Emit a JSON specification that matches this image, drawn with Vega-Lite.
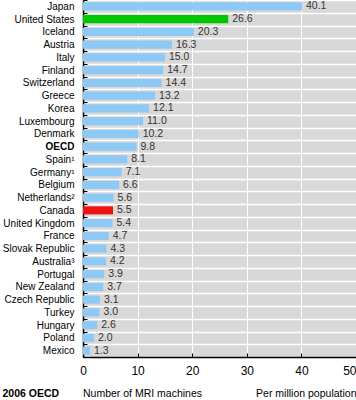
{
  "$schema": "https://vega.github.io/schema/vega-lite/v6.json",
  "width": 273,
  "height": 357,
  "autosize": {"type": "none"},
  "padding": {"left": 83, "top": 0, "right": 0, "bottom": 43},
  "background": "white",
  "config": {
    "view": {"fill": "#d8d8d8", "stroke": null},
    "font": "Liberation Sans",
    "title": {"font": "Liberation Sans", "fontWeight": "normal", "fontSize": 10.5, "color": "#000"}
  },
  "title": {"text": "Number of MRI machines", "orient": "bottom", "anchor": "start", "frame": "group", "offset": 0, "dy": -10},
  "data": {"values": [
    {"country": "Japan", "value": 40.1, "group": "other"},
    {"country": "United States", "value": 26.6, "group": "us"},
    {"country": "Iceland", "value": 20.3, "group": "other"},
    {"country": "Austria", "value": 16.3, "group": "other"},
    {"country": "Italy", "value": 15.0, "group": "other"},
    {"country": "Finland", "value": 14.7, "group": "other"},
    {"country": "Switzerland", "value": 14.4, "group": "other"},
    {"country": "Greece", "value": 13.2, "group": "other"},
    {"country": "Korea", "value": 12.1, "group": "other"},
    {"country": "Luxembourg", "value": 11.0, "group": "other"},
    {"country": "Denmark", "value": 10.2, "group": "other"},
    {"country": "OECD", "value": 9.8, "group": "other"},
    {"country": "Spain¹", "value": 8.1, "group": "other"},
    {"country": "Germany¹", "value": 7.1, "group": "other"},
    {"country": "Belgium", "value": 6.6, "group": "other"},
    {"country": "Netherlands²", "value": 5.6, "group": "other"},
    {"country": "Canada", "value": 5.5, "group": "canada"},
    {"country": "United Kingdom", "value": 5.4, "group": "other"},
    {"country": "France", "value": 4.7, "group": "other"},
    {"country": "Slovak Republic", "value": 4.3, "group": "other"},
    {"country": "Australia³", "value": 4.2, "group": "other"},
    {"country": "Portugal", "value": 3.9, "group": "other"},
    {"country": "New Zealand", "value": 3.7, "group": "other"},
    {"country": "Czech Republic", "value": 3.1, "group": "other"},
    {"country": "Turkey", "value": 3.0, "group": "other"},
    {"country": "Hungary", "value": 2.6, "group": "other"},
    {"country": "Poland", "value": 2.0, "group": "other"},
    {"country": "Mexico", "value": 1.3, "group": "other"}
  ]},
  "encoding": {
    "y": {
      "field": "country", "type": "nominal", "sort": null,
      "scale": {"paddingInner": 0, "paddingOuter": 0},
      "axis": {
        "title": "2006 OECD",
        "titleAngle": 0, "titleX": -81, "titleY": 396, "titleAlign": "left", "titleBaseline": "alphabetic",
        "titleFontSize": 10.5, "titleFontWeight": "bold", "titleFont": "Liberation Sans", "titleColor": "#000",
        "domainColor": "#000", "domainWidth": 1.5,
        "tickBand": "extent", "tickColor": "#000", "tickSize": -4,
        "grid": true, "gridColor": "#ffffff", "gridWidth": 1.5,
        "labelFontSize": 10, "labelColor": "#000", "labelPadding": 13, "labelLimit": 90,
        "labelFontWeight": {"condition": {"test": "datum.value === 'OECD'", "value": "bold"}, "value": "normal"}
      }
    }
  },
  "layer": [
    {
      "mark": {"type": "bar", "height": {"band": 0.63}},
      "encoding": {
        "x": {
          "field": "value", "type": "quantitative",
          "scale": {"domain": [0, 50], "nice": false},
          "axis": {
            "values": [0, 10, 20, 30, 40, 50],
            "title": "Per million population",
            "titleX": 273, "titleY": 39, "titleAlign": "right", "titleBaseline": "alphabetic",
            "titleFontSize": 10.5, "titleFontWeight": "normal", "titleColor": "#000",
            "domainColor": "#000", "domainWidth": 1.5,
            "tickColor": "#000", "tickSize": -4,
            "grid": true, "gridColor": "#ffffff", "gridWidth": 1,
            "labelFontSize": 12, "labelColor": "#000", "labelPadding": 12, "labelFlush": false,
            "labelAlign": {"condition": {"test": "datum.value === 50", "value": "right"}, "value": "center"}
          }
        },
        "color": {
          "field": "group", "type": "nominal",
          "scale": {"domain": ["other", "us", "canada"], "range": ["#8ec8f4", "#00c800", "#ee1111"]},
          "legend": null
        }
      }
    },
    {
      "mark": {"type": "text", "align": "left", "baseline": "middle", "dx": 4, "fontSize": 10.5, "color": "#333333"},
      "encoding": {
        "x": {"field": "value", "type": "quantitative"},
        "text": {"field": "value", "type": "quantitative", "format": ".1f"}
      }
    }
  ]
}
